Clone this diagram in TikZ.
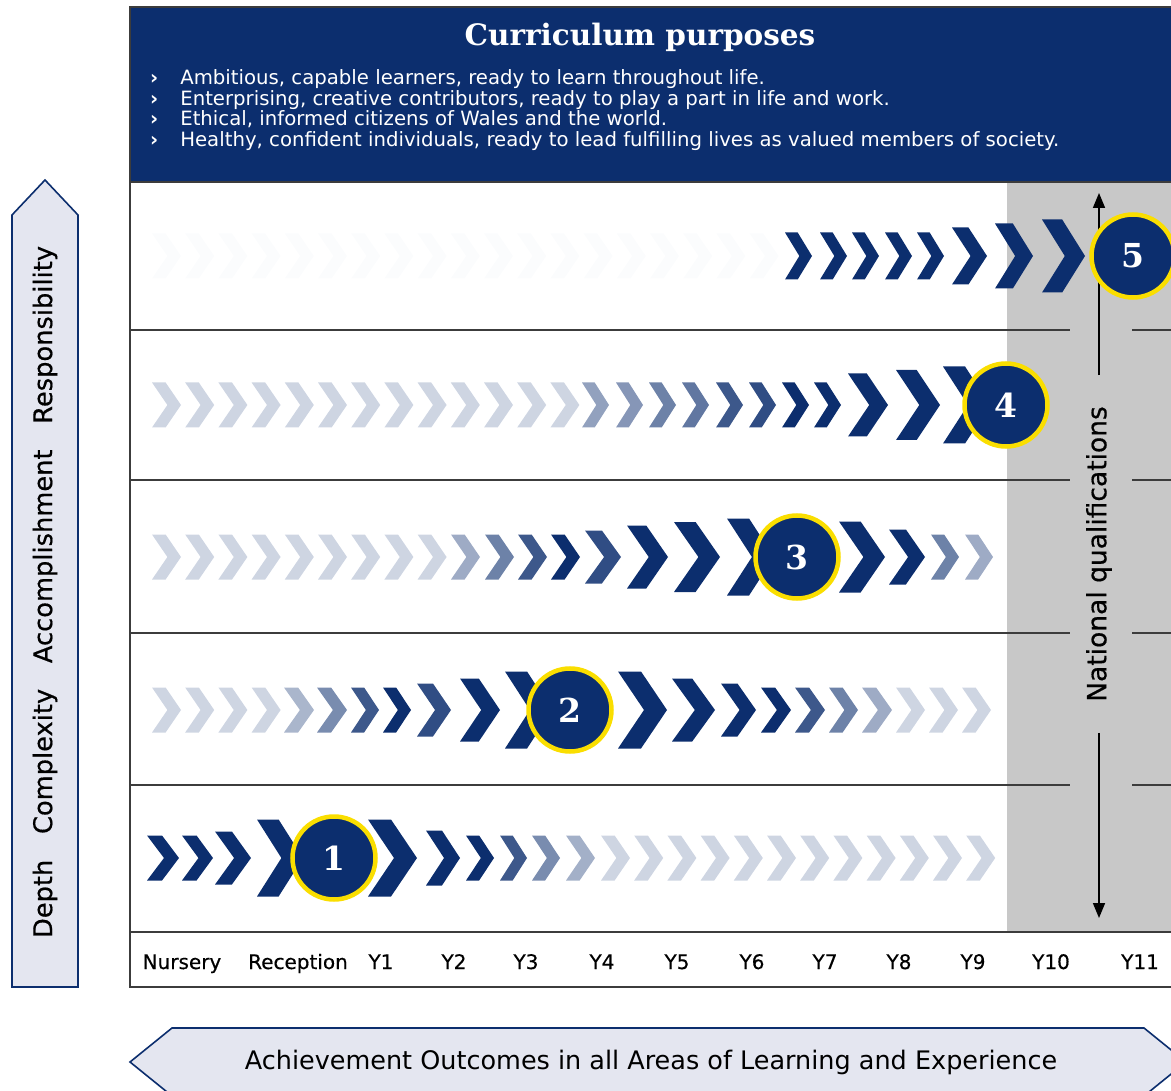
\documentclass[tikz,border=0pt]{standalone}
\usepackage{fontspec}
\setmainfont{DejaVu Sans}
\newfontfamily\slabfont{DejaVu Serif}
\newfontfamily\medfont[FakeBold=0.5]{DejaVu Sans}
\usetikzlibrary{arrows.meta}
\definecolor{navy}{RGB}{12,46,110}
\definecolor{ringyellow}{RGB}{250,222,0}
\definecolor{bandgrey}{RGB}{200,200,200}
\definecolor{arrowfill}{RGB}{228,230,240}
\definecolor{rulegrey}{RGB}{60,60,60}

% left x, centre y, width, height, shade of navy
\newcommand{\chevr}[5]{%
  \fill[navy!#5, shift={(#1,#2)}, xscale=#3, yscale=#4]
    (0,-0.5) -- (0.47,-0.5) -- (1,0) -- (0.47,0.5) -- (0,0.5) -- (0.53,0) -- cycle;}
\newcommand{\bul}{\textbf{›}\hspace{22pt}}

\begin{document}
\begin{tikzpicture}[x=1pt, y=-1pt,
    stage/.style={circle, fill=navy, draw=ringyellow, line width=4.5pt, minimum size=83pt,
      inner sep=0pt, text=white, font=\slabfont\bfseries\fontsize{33}{33}\selectfont},
    yearlab/.style={anchor=base, inner sep=0pt, font=\medfont\fontsize{20}{20}\selectfont},
    purpose/.style={anchor=base west, inner sep=0pt, text=white, font=\fontsize{19.7}{20}\selectfont},
    rowline/.style={draw=rulegrey, line width=1.6pt},
    qarrow/.style={line width=1.6pt, -{Triangle[width=12pt,length=15pt]}},
    bigarrow/.style={fill=arrowfill, draw=navy, line width=1.6pt}]
  \useasboundingbox (0,0) rectangle (1171,1091);
  \clip (0,0) rectangle (1171,1091);

  % background areas
  \fill[bandgrey] (1007,182) rectangle (1180,932);
  \fill[navy] (130,7) rectangle (1180,182);
  \draw[rowline] (1180,7) -- (130,7) -- (130,987) -- (1180,987);
  \draw[rowline] (130,182) -- (1180,182);
  \draw[rowline] (130,932) -- (1180,932);
  \foreach \y in {330,480,633,785} {
    \draw[rowline] (130,\y) -- (1070,\y);
    \draw[rowline] (1132,\y) -- (1180,\y);
  }

  % header
  \node (title) [text=white, font=\slabfont\bfseries\fontsize{29.5}{30}\selectfont] at (640,37) {Curriculum purposes};
  \node (p1) [purpose] at (150,85) {\bul Ambitious, capable learners, ready to learn throughout life.};
  \node (p2) [purpose] at (150,106) {\bul Enterprising, creative contributors, ready to play a part in life and work.};
  \node (p3) [purpose] at (150,126) {\bul Ethical, informed citizens of Wales and the world.};
  \node (p4) [purpose] at (150,147) {\bul Healthy, confident individuals, ready to lead fulfilling lives as valued members of society.};

  % row 5
  \foreach \i in {0,...,18} \chevr{152+33.2*\i}{256}{29}{45}{1.5};
  \foreach \x/\w/\h/\s in {785/27/47/100, 820/27/47/100, 852/27/47/100, 885/27/47/100,
      917/27/47/100, 952/35/57/100, 995/38/65/100, 1042/43/73/100}
    \chevr{\x}{256}{\w}{\h}{\s};
  % row 4
  \foreach \i in {0,...,12} \chevr{152+33.2*\i}{405}{29}{45}{20};
  \foreach \x/\w/\h/\s in {582/27/45/45, 616/27/45/50, 649/27/45/60, 682/27/45/65,
      716/27/45/80, 749/27/45/85, 782/27/45/100, 814/27/45/100, 848/40/63/100,
      896/44/70/100, 943/47/77/100}
    \chevr{\x}{405}{\w}{\h}{\s};
  % row 3
  \foreach \i in {0,...,8} \chevr{152+33.2*\i}{557}{29}{45}{20};
  \foreach \x/\w/\h/\s in {451/29/45/40, 485/29/45/60, 518/29/45/80, 551/29/45/100,
      585/36/53/85, 627/41/63/100, 674/46/70/100, 727/47/77/100, 839/46/71/100,
      889/36/55/100, 931/28/45/60, 965/28/45/40}
    \chevr{\x}{557}{\w}{\h}{\s};
  % row 2
  \foreach \i in {0,...,3} \chevr{152+33.2*\i}{710}{29}{45}{20};
  \foreach \x/\w/\h/\s in {284/30/45/35, 317/30/45/55, 351/28/45/80, 383/28/45/100,
      417/34/53/85, 460/40/63/100, 505/47/77/100, 618/49/77/100, 672/43/63/100,
      721/35/53/100, 761/30/45/100, 795/30/45/80, 829/29/45/60, 862/30/45/40,
      896/29/45/20, 929/29/45/20, 962/29/45/20}
    \chevr{\x}{710}{\w}{\h}{\s};
  % row 1
  \foreach \x/\w/\h/\s in {147/32/45/100, 182/31/45/100, 215/36/53/100, 257/46/77/100,
      368/49/77/100, 426/34/55/100, 466/28/45/100, 500/27/45/80, 532/28/45/55,
      566/29/45/38}
    \chevr{\x}{858}{\w}{\h}{\s};
  \foreach \i in {0,...,11} \chevr{601+33.2*\i}{858}{29}{45}{20};

  % national qualifications
  \node (natq) [rotate=90, inner xsep=31pt, font=\medfont\fontsize{26.5}{24}\selectfont] at (1099,554) {National qualifications};
  \coordinate (qtop) at (1099,193);
  \coordinate (qbot) at (1099,918);
  \draw[qarrow] (natq.east) -- (qtop);
  \draw[qarrow] (natq.west) -- (qbot);

  % stages
  \node (s1) [stage] at (334,858) {1};
  \node (s2) [stage] at (570,710) {2};
  \node (s3) [stage] at (797,557) {3};
  \node (s4) [stage] at (1006,405) {4};
  \node (s5) [stage] at (1133,256) {5};

  % years
  \foreach \n/\x/\t in {yn/182/Nursery, yr/298/Reception, y1/381/Y1, y2/454/Y2, y3/526/Y3,
      y4/602/Y4, y5/677/Y5, y6/752/Y6, y7/825/Y7, y8/899/Y8, y9/973/Y9, y10/1051/Y10,
      y11/1140/Y11}
    \node (\n) [yearlab] at (\x,969) {\t};

  % axes
  \draw[bigarrow] (12,987) -- (12,215) -- (45,180) -- (78,215) -- (78,987) -- cycle;
  \node (depth) [rotate=90, font=\medfont\fontsize{25.7}{24}\selectfont] at (45,592)
    {Depth\quad Complexity\quad Accomplishment\quad Responsibility};
  \draw[bigarrow] (130,1062) -- (172,1028) -- (1144,1028) -- (1186,1062) -- (1144,1096) -- (172,1096) -- cycle;
  \node (aoles) [font=\fontsize{25.5}{26}\selectfont] at (651,1062)
    {Achievement Outcomes in all Areas of Learning and Experience};
\end{tikzpicture}
\end{document}
